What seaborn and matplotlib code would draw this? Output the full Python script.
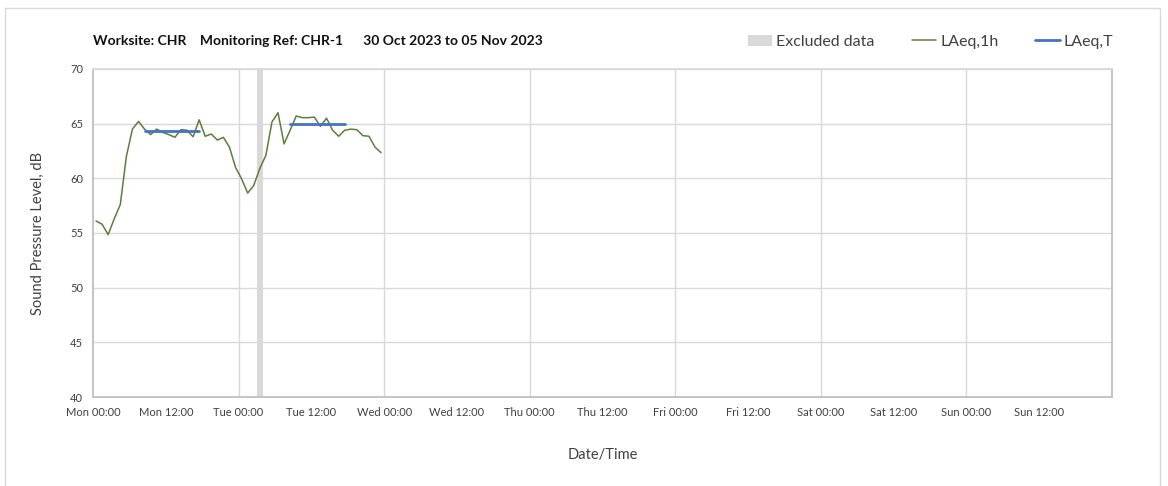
import pandas as pd
import seaborn as sns
import numpy as np
import matplotlib.pyplot as plt
import matplotlib.dates as mdates
from matplotlib.patches import Patch, Rectangle
from matplotlib.lines import Line2D
from matplotlib.ticker import FuncFormatter

# hourly LAeq,1h readings, Mon 30 Oct 00:30 to Tue 31 Oct 23:30
start = "2023-10-30 00:30"
laeq_1h = [56.1, 55.8, 54.85, 56.3, 57.6, 62.0, 64.5, 65.2, 64.5, 64.0,
           64.5, 64.2, 64.0, 63.75, 64.45, 64.4, 63.8, 65.35, 63.85, 64.05,
           63.5, 63.75, 62.85, 61.0, 59.95, 58.65, 59.35, 60.9, 62.1, 65.15,
           66.0, 63.15, 64.4, 65.7, 65.55, 65.55, 65.6, 64.75, 65.5, 64.4,
           63.85, 64.4, 64.5, 64.45, 63.9, 63.85, 62.85, 62.35]

# LAeq,T daytime periods
period_start = ["2023-10-30 08:30", "2023-10-31 08:30"]
period_end = ["2023-10-30 17:30", "2023-10-31 17:30"]
laeq_t = [64.3, 65.0]

# excluded data window
excl_start = "2023-10-31 03:00"
excl_end = "2023-10-31 04:00"

df = pd.DataFrame({
    "time": pd.date_range(start, periods=len(laeq_1h), freq="h"),
    "level": laeq_1h,
})

rows = []
for i, (s, e, v) in enumerate(zip(period_start, period_end, laeq_t)):
    rows.append({"time": pd.Timestamp(s), "level": v, "period": i})
    rows.append({"time": pd.Timestamp(e), "level": v, "period": i})
df_t = pd.DataFrame(rows)

sns.set_style("white")
plt.rcParams["font.family"] = ["Lato", "DejaVu Sans"]

green = "#5b7f3a"
blue = "#4472c4"
grey = "#d9d9d9"
text_col = "#404040"

fig = plt.figure(figsize=(11.68, 4.86), dpi=100)
ax = fig.add_axes([93 / 1168, 89 / 486, 1019 / 1168, 328 / 486])

# figure border
fig.patches.append(Rectangle((5 / 1168, -0.1), 1155 / 1168, 1.1 - 8 / 486,
                             transform=fig.transFigure, fill=False,
                             edgecolor="#d9d9d9", linewidth=1))

ax.axvspan(pd.Timestamp(excl_start), pd.Timestamp(excl_end), color=grey, zorder=1, lw=0)

sns.lineplot(data=df, x="time", y="level", color=green, linewidth=1.1, ax=ax, zorder=3)
sns.lineplot(data=df_t, x="time", y="level", units="period", estimator=None,
             color=blue, linewidth=2, ax=ax, zorder=4)

x0 = pd.Timestamp("2023-10-30 00:00")
x1 = x0 + pd.Timedelta(days=7)
ax.set_xlim(x0, x1)
ax.set_ylim(40, 70)
ax.set_yticks(np.arange(40, 71, 5))
ax.xaxis.set_major_locator(mdates.HourLocator(byhour=[0, 12]))
x1_num = mdates.date2num(x1)
ax.xaxis.set_major_formatter(FuncFormatter(
    lambda v, p: "" if abs(v - x1_num) < 1e-6 else mdates.num2date(v).strftime("%a %H:%M")))

# grid: horizontal every 5 dB, vertical at midnight only
ax.grid(axis="y", color=grey, linewidth=1)
for d in range(1, 7):
    ax.axvline(x0 + pd.Timedelta(days=d), color=grey, linewidth=1, zorder=0)

for side in ["left", "bottom", "right", "top"]:
    ax.spines[side].set_color("#bfbfbf")
    ax.spines[side].set_linewidth(1.3)
ax.spines["top"].set_color(grey)

ax.tick_params(axis="both", length=4, width=1, color="#bfbfbf", labelsize=8,
               labelcolor=text_col, direction="out", pad=3)

ax.set_xlabel("Date/Time", fontsize=10.5, color=text_col, labelpad=22)
ax.set_ylabel("Sound Pressure Level, dB", fontsize=10.5, color=text_col, labelpad=18)

fig.text(93 / 1168, 1 - 41 / 486,
         "Worksite: CHR    Monitoring Ref: CHR-1      30 Oct 2023 to 05 Nov 2023",
         fontsize=10, fontweight="bold", color="#111111", va="center", ha="left")

handles = [Patch(facecolor=grey, edgecolor="none"),
           Line2D([], [], color=green, linewidth=1.1),
           Line2D([], [], color=blue, linewidth=2)]
fig.legend(handles, ["Excluded data", "LAeq,1h", "LAeq,T"], ncol=3, frameon=False,
           loc="center right", bbox_to_anchor=(1120 / 1168, 1 - 42 / 486),
           fontsize=11.5, labelcolor=text_col, handlelength=1.55, handletextpad=0.25,
           columnspacing=2.3, borderaxespad=0)

fig.savefig("out.png", dpi=100)
